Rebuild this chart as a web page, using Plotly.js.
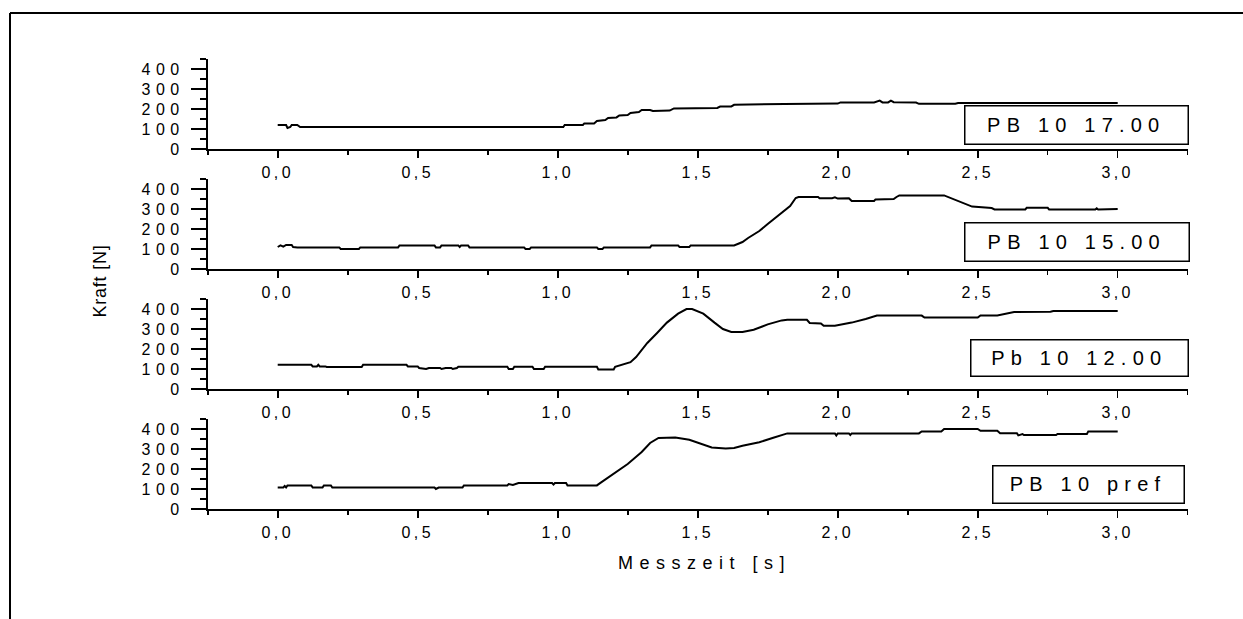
<!DOCTYPE html>
<html>
<head>
<meta charset="utf-8">
<script src="https://cdn.plot.ly/plotly-3.0.1.min.js"></script>
<style>
  html, body { margin: 0; padding: 0; background: #fff; }
  #chart { width: 1243px; height: 619px; }
  .xtick text, .x2tick text, .x3tick text, .x4tick text { letter-spacing: 3.4px; }
  .ytick text, .y2tick text, .y3tick text, .y4tick text { letter-spacing: 5.5px; }
  .annotation[data-index="0"] text,
  .annotation[data-index="1"] text,
  .annotation[data-index="2"] text,
  .annotation[data-index="3"] text { letter-spacing: 6.2px; }
  .annotation[data-index="4"] text { letter-spacing: 6.5px; }
  .annotation[data-index="5"] text { letter-spacing: 0.8px; }
</style>
</head>
<body>
<div id="chart"></div>
<script>
// ---- data (time in s, force in N) ----
const seriesNames = ["PB 10 17.00", "PB 10 15.00", "Pb 10 12.00", "PB 10 pref"];

const t1700 = [0,0.03,0.035,0.045,0.05,0.07,0.08,1.02,1.025,1.09,1.095,1.13,1.14,1.17,1.18,1.21,1.22,1.25,1.26,1.29,1.30,1.33,1.34,1.40,1.415,1.57,1.58,1.62,1.63,1.80,1.81,2.00,2.01,2.13,2.15,2.16,2.18,2.19,2.20,2.28,2.29,2.42,2.43,3.00];
const f1700 = [120,120,105,110,120,120,110,110,120,120,128,128,140,145,155,158,168,170,180,185,195,195,190,192,203,205,212,213,221,222,225,227,233,233,242,233,233,242,234,232,226,226,230,230];

const t1500 = [0,0.01,0.02,0.03,0.05,0.055,0.07,0.22,0.225,0.29,0.295,0.43,0.435,0.56,0.565,0.58,0.585,0.645,0.65,0.655,0.68,0.685,0.88,0.885,0.90,0.905,1.14,1.145,1.16,1.165,1.33,1.335,1.43,1.435,1.47,1.475,1.63,1.66,1.68,1.72,1.75,1.79,1.83,1.85,1.86,1.93,1.935,1.98,1.99,2.00,2.04,2.05,2.13,2.135,2.20,2.21,2.22,2.38,2.42,2.45,2.48,2.55,2.56,2.67,2.675,2.75,2.755,2.92,2.925,2.93,3.00];
const f1500 = [110,118,112,120,120,110,108,108,100,100,108,108,118,118,108,108,118,118,110,118,118,108,108,100,100,108,108,100,100,108,108,118,118,110,110,118,118,135,155,190,225,270,315,355,360,360,354,354,358,352,354,340,340,348,350,360,368,368,345,330,312,305,298,298,306,306,298,298,304,298,300];

const t1200 = [0,0.12,0.125,0.14,0.145,0.15,0.17,0.175,0.30,0.305,0.46,0.465,0.50,0.505,0.53,0.54,0.58,0.585,0.60,0.62,0.625,0.64,0.645,0.82,0.825,0.84,0.845,0.91,0.915,0.95,0.955,1.14,1.145,1.20,1.205,1.23,1.26,1.28,1.30,1.32,1.355,1.39,1.43,1.46,1.48,1.52,1.56,1.59,1.62,1.66,1.70,1.75,1.80,1.82,1.89,1.90,1.94,1.95,1.99,2.05,2.10,2.14,2.30,2.31,2.50,2.51,2.57,2.60,2.63,2.76,2.77,3.00];
const f1200 = [121,121,113,113,121,113,113,110,110,121,121,113,113,105,100,105,105,100,105,105,100,105,111,111,100,100,111,111,100,100,111,111,98,98,111,121,134,160,195,230,280,332,377,400,400,377,332,300,285,285,296,323,343,346,346,330,328,316,316,332,350,367,367,357,357,368,368,378,385,386,390,390];

const tPref = [0,0.02,0.025,0.03,0.035,0.12,0.125,0.16,0.165,0.19,0.195,0.56,0.565,0.575,0.66,0.665,0.82,0.825,0.84,0.85,0.86,0.98,0.985,0.99,1.03,1.035,1.14,1.15,1.20,1.25,1.30,1.33,1.36,1.42,1.47,1.51,1.55,1.60,1.63,1.66,1.72,1.77,1.82,1.99,1.995,2.00,2.04,2.045,2.05,2.29,2.30,2.37,2.38,2.50,2.51,2.57,2.58,2.64,2.645,2.66,2.665,2.78,2.785,2.89,2.895,3.00];
const fPref = [108,108,115,108,118,118,107,107,118,118,107,107,100,107,107,118,118,125,120,127,130,130,122,130,130,118,118,128,175,225,285,330,355,358,346,328,308,302,305,316,334,356,378,378,368,378,378,370,378,378,388,388,400,400,391,391,379,379,368,375,370,370,375,375,388,388];

const xTitle = "Messzeit [s]";
const yTitle = "Kraft [N]";

// ---- geometry ----
const W = 1243, H = 619;
const px = v => v / W;
const py = v => 1 - v / H;
const xDom = [px(207.7), px(1187.7)];
const panels = [[59,149],[179,269],[299,389],[419,509]];
const boxes = [[962,1185,106,144],[962,1186,223,261],[968,1185,340,376],[990,1181,466,503]];

const FONT = "Liberation Sans, Arial, Helvetica, sans-serif";
const allT = [t1700, t1500, t1200, tPref];
const allF = [f1700, f1500, f1200, fPref];

const data = allT.map((t, i) => ({
  x: t, y: allF[i],
  xaxis: i === 0 ? 'x' : 'x' + (i + 1),
  yaxis: i === 0 ? 'y' : 'y' + (i + 1),
  type: 'scatter', mode: 'lines',
  line: { color: '#000', width: 2 },
  name: seriesNames[i], showlegend: false, hoverinfo: 'skip'
}));

const layout = {
  width: W, height: H,
  margin: { l: 0, r: 0, t: 0, b: 0 },
  paper_bgcolor: '#fff', plot_bgcolor: 'rgba(0,0,0,0)',
  separators: ', ',
  showlegend: false,
  font: { family: FONT, color: '#000' },
  annotations: [],
  shapes: [
    { type: 'line', xref: 'paper', yref: 'paper', x0: px(10), x1: 1, y0: py(13), y1: py(13), line: { color: '#000', width: 2 } },
    { type: 'line', xref: 'paper', yref: 'paper', x0: px(10), x1: px(10), y0: py(13), y1: 0, line: { color: '#000', width: 2 } }
  ]
};

panels.forEach((p, i) => {
  const xk = i === 0 ? 'xaxis' : 'xaxis' + (i + 1);
  const yk = i === 0 ? 'yaxis' : 'yaxis' + (i + 1);
  const yname = i === 0 ? 'y' : 'y' + (i + 1);
  const xname = i === 0 ? 'x' : 'x' + (i + 1);
  layout[xk] = {
    domain: xDom, anchor: yname, range: [-0.25, 3.25],
    showline: true, linecolor: '#000', linewidth: 1.8,
    ticks: 'outside', ticklen: 7, tickwidth: 1.6, tickcolor: '#000',
    tick0: 0, dtick: 0.5, tickformat: '.1f',
    minor: { tick0: 0, dtick: 0.25, ticks: 'outside', ticklen: 4, tickwidth: 1.6, tickcolor: '#000', showgrid: false },
    showgrid: false, zeroline: false, fixedrange: true,
    tickfont: { family: FONT, size: 16, color: '#000' },
    ticklabelstandoff: 1
  };
  layout[yk] = {
    domain: [py(p[1]), py(p[0])], anchor: xname, range: [0, 450],
    showline: true, linecolor: '#000', linewidth: 1.8,
    ticks: 'outside', ticklen: 15, tickwidth: 1.6, tickcolor: '#000',
    tick0: 0, dtick: 100,
    minor: { tick0: 0, dtick: 50, ticks: 'outside', ticklen: 6, tickwidth: 1.6, tickcolor: '#000', showgrid: false },
    showgrid: false, zeroline: false, fixedrange: true,
    tickfont: { family: FONT, size: 16, color: '#000' },
    ticklabelstandoff: 3
  };
  const b = boxes[i];
  layout.annotations.push({
    xref: 'paper', yref: 'paper',
    x: px((b[0] + b[1]) / 2), y: py((b[2] + b[3]) / 2),
    xanchor: 'center', yanchor: 'middle',
    width: b[1] - b[0] - 1.5, height: b[3] - b[2] - 1.5,
    text: seriesNames[i], showarrow: false, align: 'center', valign: 'middle',
    bordercolor: '#000', borderwidth: 1.5, borderpad: 0, bgcolor: '#fff',
    xshift: 3,
    font: { family: FONT, size: 20, color: '#000' }
  });
});

layout.annotations.push({
  xref: 'paper', yref: 'paper', x: px(701), y: py(563),
  xanchor: 'center', yanchor: 'middle', xshift: 3,
  text: xTitle, showarrow: false,
  font: { family: FONT, size: 18, color: '#000' }
});
layout.annotations.push({
  xref: 'paper', yref: 'paper', x: px(100), y: py(281),
  xanchor: 'center', yanchor: 'middle', textangle: -90,
  text: yTitle, showarrow: false,
  font: { family: FONT, size: 18, color: '#000' }
});

Plotly.newPlot('chart', data, layout, { staticPlot: true, displayModeBar: false });
</script>
</body>
</html>
